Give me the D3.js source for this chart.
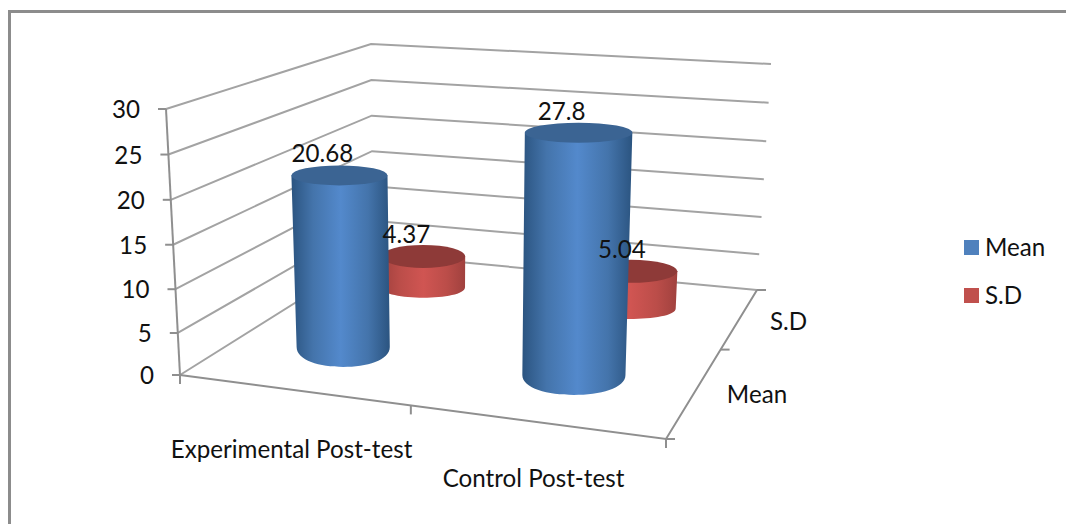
<!DOCTYPE html>
<html>
<head>
<meta charset="utf-8">
<script src="https://cdn.jsdelivr.net/npm/d3@7"></script>
<style>
html, body { margin: 0; padding: 0; background: #fff; }
svg { display: block; }
text { font-family: Lato, "Open Sans", sans-serif; fill: #111; font-size: 26px; }
</style>
</head>
<body>
<svg id="chart" width="1066" height="524"></svg>
<script>
var categories = ["Experimental Post-test", "Control Post-test"];
var seriesNames = ["Mean", "S.D"];
var meanValues = [20.68, 27.8];
var sdValues = [4.37, 5.04];
var valueTicks = [0, 5, 10, 15, 20, 25, 30];

var W = 1066, H = 524;
var svg = d3.select("#chart");
var defs = svg.append("defs");

// cube corners in screen px, as [value 0, value 30]
var FL = [[180, 375], [166, 109]];
var FR = [[666, 439], [675, 151]];
var BL = [[373, 254], [371, 44]];
var BR = [[757, 290], [771, 64]];

// slight curve, the picture's ticks bunch towards the top
var h = d3.scalePow().exponent(1.03).domain([0, 30]).range([0, 1]);
var catU = d3.scalePoint().domain(categories).range([0.22, 0.73]);
var serV = d3.scalePoint().domain(seriesNames).range([0.33, 0.8]);
var radiusU = d3.scaleOrdinal().domain(categories).range([0.103, 0.114]);
var baseRy = d3.scaleOrdinal().domain(seriesNames).range([20, 10.5]);
var capRy = d3.scaleOrdinal().domain(seriesNames).range([10, 11.5]);

function lerp(a, b, t) { return [a[0] + (b[0] - a[0]) * t, a[1] + (b[1] - a[1]) * t]; }

// u along the front, v into the depth, val up
function project(u, v, val) {
    var t = h(val);
    var lo = lerp(lerp(FL[0], FR[0], u), lerp(BL[0], BR[0], u), v);
    var hi = lerp(lerp(FL[1], FR[1], u), lerp(BL[1], BR[1], u), v);
    return lerp(lo, hi, t);
}

// text is a bit narrower than Lato
function label(x, y, anchor, txt) {
    svg.append("text")
        .attr("transform", "translate(" + x + "," + y + ") scale(0.93,1)")
        .attr("text-anchor", anchor).text(txt);
}

// frame of the whole chart, open on the right and at the bottom
svg.append("path")
    .attr("d", "M9.5," + H + "V11.5H" + W)
    .attr("fill", "none").attr("stroke", "#8c8c8c").attr("stroke-width", 3);

// walls
var grid = svg.append("g").attr("fill", "none").attr("stroke", "#a3a3a3").attr("stroke-width", 2);
valueTicks.forEach(function(t) {
    var a = project(0, 0, t), b = project(0, 1, t), c = project(1, 1, t);
    grid.append("path").attr("d", d3.line()([a, b, c]));
});

// axes and ticks
var axes = svg.append("g").attr("fill", "none").attr("stroke", "#8f8f8f").attr("stroke-width", 2);
axes.append("path").attr("d", d3.line()([project(0, 0, 0), project(0, 0, 30)]));
axes.append("path").attr("d", d3.line()([project(0, 0, 0), project(1, 0, 0), project(1, 1, 0)]));
valueTicks.forEach(function(t) {
    var p = project(0, 0, t);
    axes.append("path").attr("d", d3.line()([[p[0] - 8, p[1]], p]));
    label(p[0] - 26, p[1] + 9, "end", t);
});
[0, 0.475, 1].forEach(function(u) {
    var p = project(u, 0, 0);
    axes.append("path").attr("d", d3.line()([p, [p[0], p[1] + 9]]));
});
[0, 0.6, 1].forEach(function(v) {
    var p = project(1, v, 0);
    axes.append("path").attr("d", d3.line()([p, [p[0] + 9, p[1]]]));
});

// gradients for the cylinder sides
var looks = {
    "Mean": { edge: "#2b5480", soft: "#4474ab", mid: "#5389cc", top: "#3b6493", key: "#4f81bd" },
    "S.D": { edge: "#a0413e", soft: "#bb4d49", mid: "#d05552", top: "#8e3a38", key: "#c0504d" }
};
seriesNames.forEach(function(s, i) {
    var g = defs.append("linearGradient").attr("id", "side" + i);
    g.append("stop").attr("offset", "0%").attr("stop-color", looks[s].edge);
    g.append("stop").attr("offset", "22%").attr("stop-color", looks[s].soft);
    g.append("stop").attr("offset", "50%").attr("stop-color", looks[s].mid);
    g.append("stop").attr("offset", "78%").attr("stop-color", looks[s].soft);
    g.append("stop").attr("offset", "100%").attr("stop-color", looks[s].edge);
});

function cylinder(r) {
    var u = catU(r.cat), v = serV(r.ser), ru = radiusU(r.cat);
    var b = project(u, v, 0), t = project(u, v, r.val);
    var rxB = (project(u + ru, v, 0)[0] - project(u - ru, v, 0)[0]) / 2;
    var rxT = (project(u + ru, v, r.val)[0] - project(u - ru, v, r.val)[0]) / 2;
    var ryB = baseRy(r.ser), ryT = capRy(r.ser);
    var p = d3.path();
    p.moveTo(t[0] - rxT, t[1]);
    p.lineTo(b[0] - rxB, b[1]);
    p.bezierCurveTo(b[0] - rxB, b[1] + ryB * 1.33, b[0] + rxB, b[1] + ryB * 1.33, b[0] + rxB, b[1]);
    p.lineTo(t[0] + rxT, t[1]);
    p.closePath();
    svg.append("path").attr("d", p.toString()).attr("fill", "url(#side" + r.idx + ")");
    svg.append("ellipse").attr("cx", t[0]).attr("cy", t[1]).attr("rx", rxT).attr("ry", ryT)
        .attr("fill", looks[r.ser].top);
}

var rows = [];
categories.forEach(function(c, i) {
    rows.push({ cat: c, ser: "S.D", val: sdValues[i], idx: 1 });
    rows.push({ cat: c, ser: "Mean", val: meanValues[i], idx: 0 });
});
rows.forEach(cylinder);

// value labels sit just above the cap, the last one slides right
rows.forEach(function(r) {
    var p = project(catU(r.cat), serV(r.ser), r.val);
    var dx = r.val == sdValues[1] ? -9 : -17;
    label(p[0] + dx, p[1] - 13, "middle", r.val);
});

// category labels
var catLabel = d3.scaleOrdinal().domain(categories).range([[291.5, 458], [533.5, 487]]);
categories.forEach(function(c) {
    label(catLabel(c)[0], catLabel(c)[1], "middle", c);
});

// depth labels
var serLabel = d3.scaleOrdinal().domain(seriesNames).range([[757, 403], [788.5, 330]]);
seriesNames.forEach(function(s) {
    label(serLabel(s)[0], serLabel(s)[1], "middle", s);
});

// legend
var legY = d3.scalePoint().domain(seriesNames).range([247.5, 295.5]);
seriesNames.forEach(function(s) {
    svg.append("rect").attr("x", 964).attr("y", legY(s) - 7.5).attr("width", 15).attr("height", 15)
        .attr("fill", looks[s].key);
    label(985, legY(s) + 8, "start", s);
});
</script>
</body>
</html>
